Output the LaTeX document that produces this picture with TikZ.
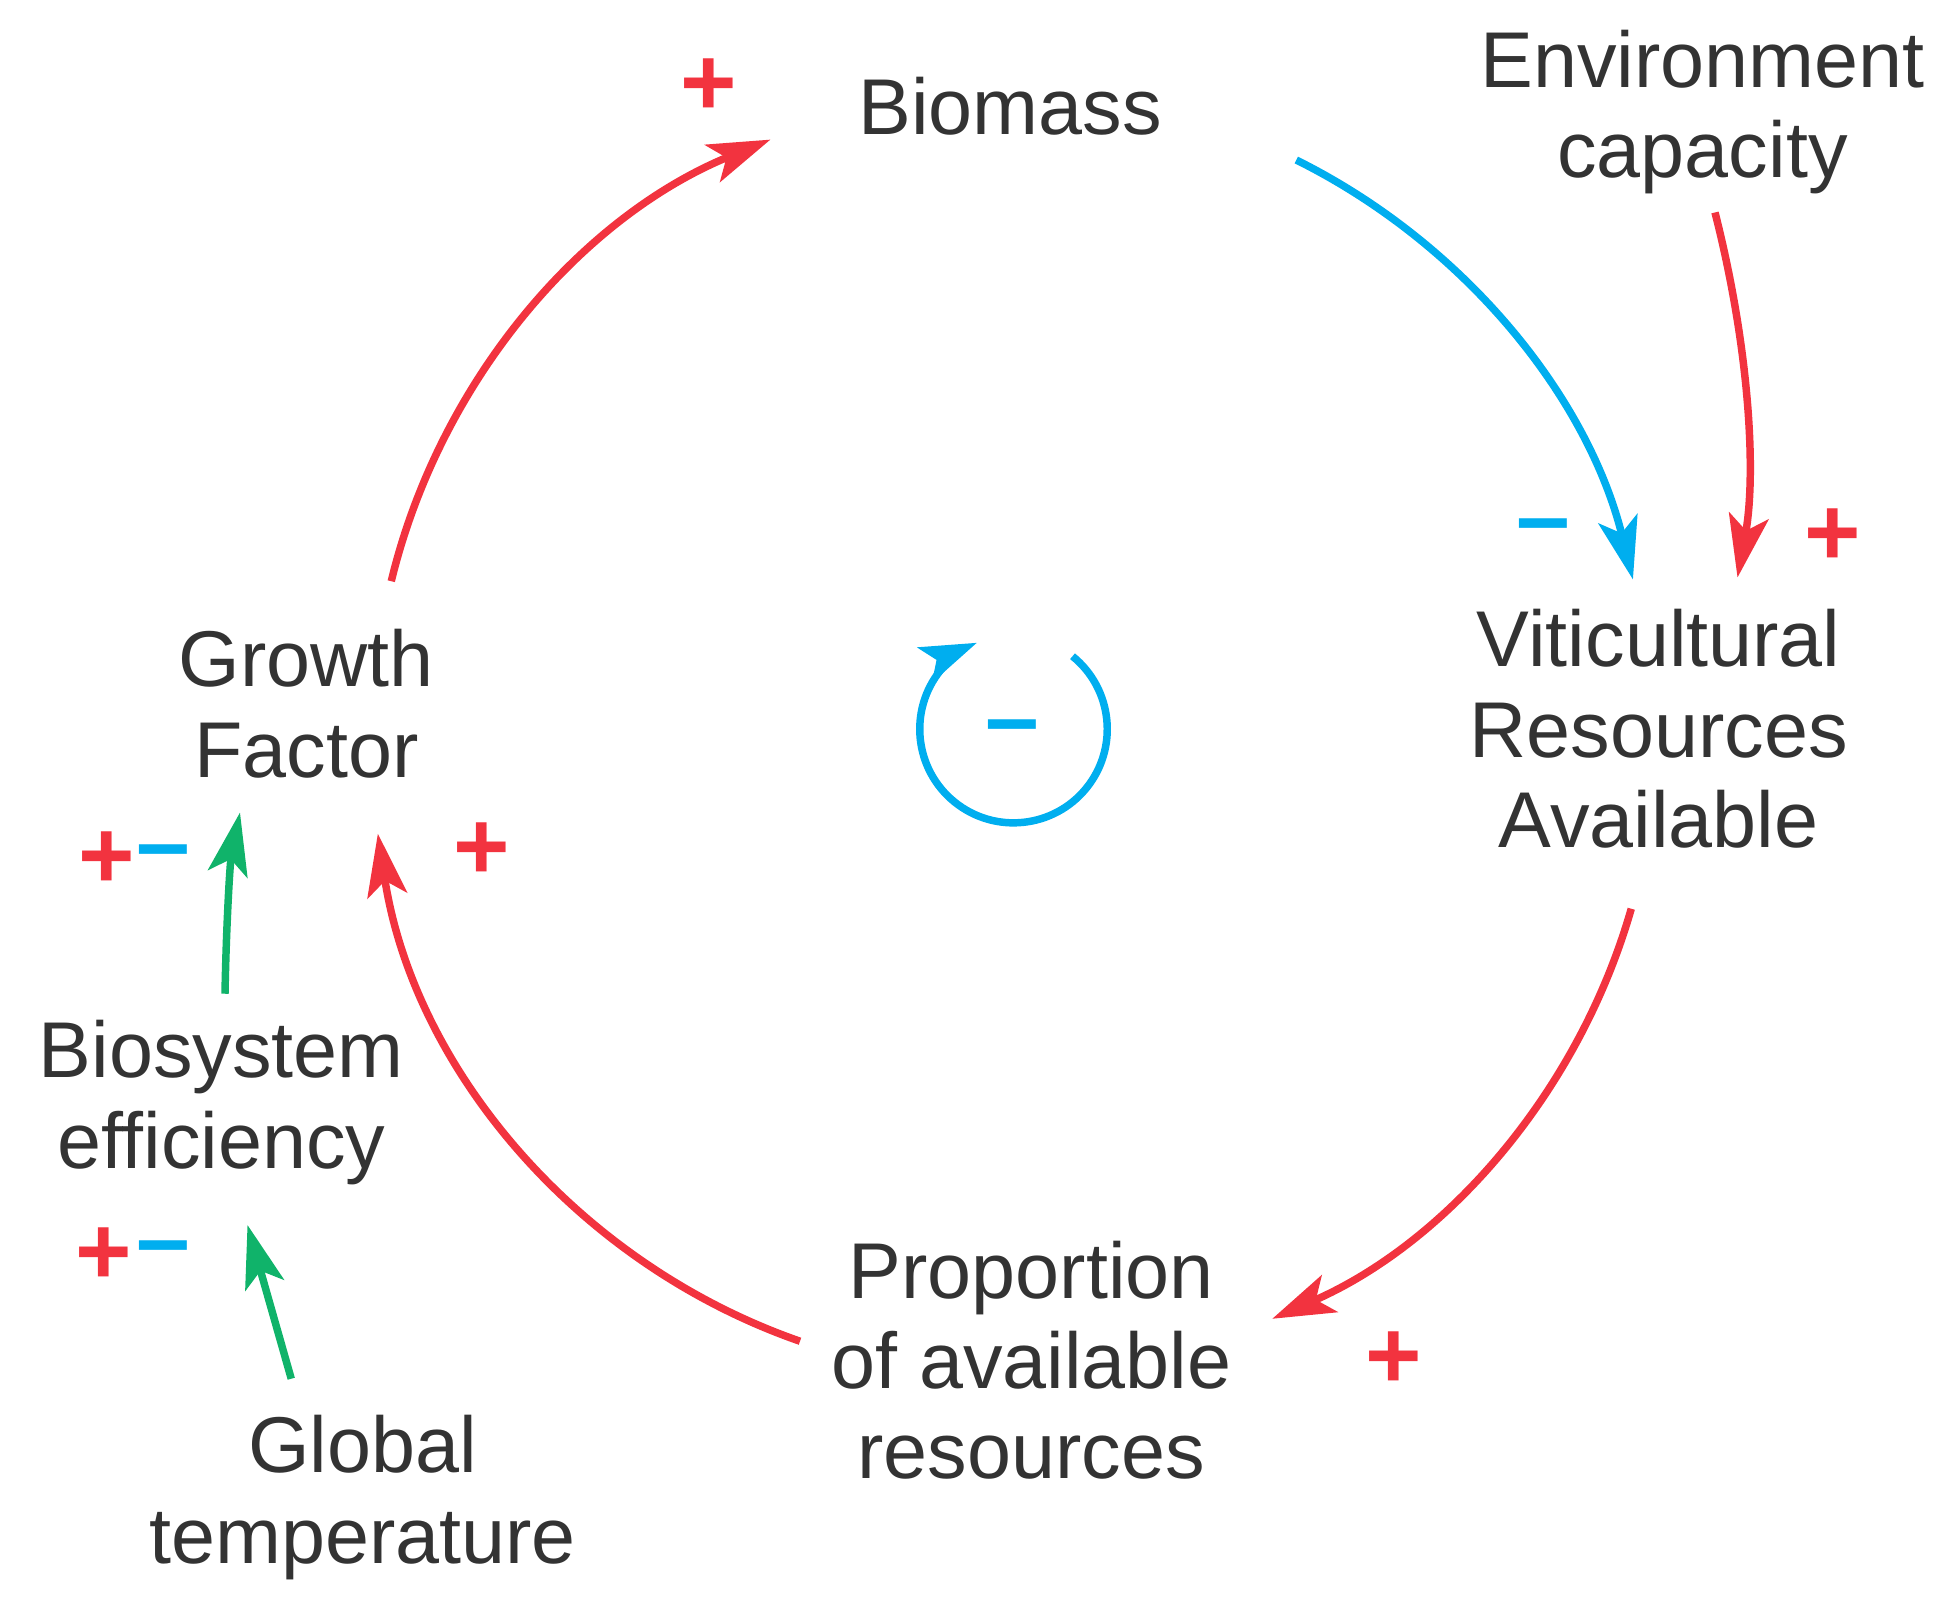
\documentclass[tikz,border=0pt]{standalone}
\usepackage{fontspec}
\setmainfont{Liberation Sans}
\usetikzlibrary{arrows.meta}
\definecolor{cred}{HTML}{F2333F}
\definecolor{cblue}{HTML}{00AEEF}
\definecolor{cgreen}{HTML}{10B36A}
\begin{document}
\begin{tikzpicture}[x=0.01cm,y=-0.01cm,
  lab/.style={align=center,text=black!80,font=\fontsize{18}{20.5}\selectfont,inner sep=0},
  sg/.style={font=\bfseries\fontsize{22}{22}\selectfont,inner sep=0},
  link/.style={line width=1.7pt,-{Stealth[length=0.5cm,width=0.32cm,inset=0.12cm]}}]
\useasboundingbox (0,0) rectangle (1560,1292);
\node[lab] (bio) at (808,85) {Biomass};
\node[lab] (env) at (1362,90) {Environment\\capacity};
\node[lab] (vit) at (1327,583) {Viticultural\\Resources\\Available};
\node[lab] (prop) at (825,1088) {Proportion\\of available\\resources};
\node[lab] (gf) at (245,563) {Growth\\Factor};
\node[lab] (bse) at (177,882) {Biosystem\\efficiency};
\node[lab] (gt) at (290,1198) {Global\\temperature};
\coordinate (a1) at (313,465);
\coordinate (a2) at (1037,128);
\coordinate (a3) at (1305,727);
\coordinate (a4) at (640,1073);
\coordinate (e1) at (1372,170);
\coordinate (e2) at (1390,462);
\coordinate (b1) at (180,795);
\coordinate (b2) at (192,650);
\coordinate (t1) at (233,1103);
\coordinate (t2) at (198,980);
\coordinate (c1) at (858,525);
\draw[link,cred] (a1) arc[start angle=-166.4,end angle=-112.3,radius=512];
\draw[link,cblue] (a2) arc[start angle=-63.6,end angle=-13.9,radius=512];
\draw[link,cred] (a3) arc[start angle=16,end angle=66.4,radius=512];
\draw[link,cred] (a4) arc[start angle=109.2,end angle=171.3,radius=512];
\draw[link,cred] (e1) .. controls (1400,280) and (1405,380) .. (e2);
\draw[link,cgreen] (b1) .. controls (181,740) and (184,690) .. (b2);
\draw[link,cgreen] (t1) -- (t2);
\draw[link,cblue,-{Stealth[length=0.45cm,width=0.3cm,inset=0.1cm]}] (c1) arc[start angle=-51,end angle=247,radius=75];
\node[sg,text=cblue] (cm) at (810,588) {--};
\node[sg,text=cred] (s1) at (567,70) {+};
\node[sg,text=cblue] (s2) at (1235,427) {--};
\node[sg,text=cred] (s3) at (1466,430) {+};
\node[sg,text=cred] (s4) at (1115,1088) {+};
\node[sg,text=cred] (s5) at (385,681) {+};
\node[sg,text=cred] (s6) at (85,688) {+};
\node[sg,text=cblue] (s7) at (131,688) {--};
\node[sg,text=cred] (s8) at (83,1005) {+};
\node[sg,text=cblue] (s9) at (131,1005) {--};
\end{tikzpicture}
\end{document}
